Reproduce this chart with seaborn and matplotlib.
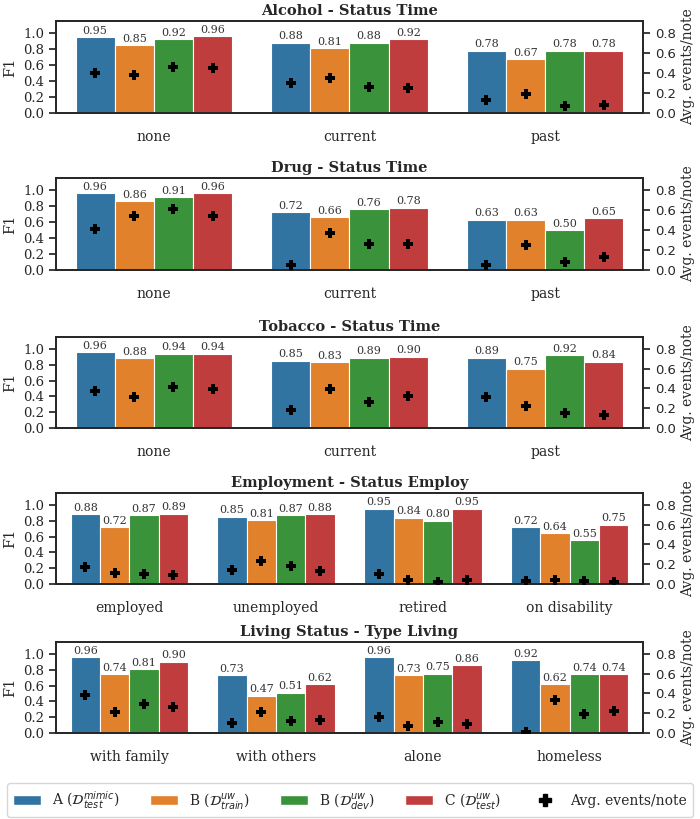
import numpy as np
import pandas as pd
import seaborn as sns
import matplotlib.pyplot as plt
from matplotlib.patches import Patch
from matplotlib.lines import Line2D

sns.set_theme(style="ticks")
plt.rcParams['font.family'] = ['DejaVu Serif']
plt.rcParams['mathtext.fontset'] = 'dejavusans'

models = [r"A ($\mathcal{D}_{test}^{mimic}$)",
          r"B ($\mathcal{D}_{train}^{uw}$)",
          r"B ($\mathcal{D}_{dev}^{uw}$)",
          r"C ($\mathcal{D}_{test}^{uw}$)"]

# ---- Alcohol ----
alcohol_title = "Alcohol - Status Time"
alcohol_cats = ["none", "current", "past"]
alcohol_f1_A = [0.95, 0.88, 0.78]
alcohol_f1_Btr = [0.85, 0.81, 0.67]
alcohol_f1_Bdev = [0.92, 0.88, 0.78]
alcohol_f1_C = [0.96, 0.92, 0.78]
alcohol_ev_A = [0.40, 0.30, 0.13]
alcohol_ev_Btr = [0.38, 0.35, 0.19]
alcohol_ev_Bdev = [0.46, 0.26, 0.07]
alcohol_ev_C = [0.45, 0.25, 0.08]

# ---- Drug ----
drug_title = "Drug - Status Time"
drug_cats = ["none", "current", "past"]
drug_f1_A = [0.96, 0.72, 0.63]
drug_f1_Btr = [0.86, 0.66, 0.63]
drug_f1_Bdev = [0.91, 0.76, 0.50]
drug_f1_C = [0.96, 0.78, 0.65]
drug_ev_A = [0.41, 0.05, 0.05]
drug_ev_Btr = [0.54, 0.37, 0.25]
drug_ev_Bdev = [0.61, 0.26, 0.08]
drug_ev_C = [0.54, 0.26, 0.13]

# ---- Tobacco ----
tobacco_title = "Tobacco - Status Time"
tobacco_cats = ["none", "current", "past"]
tobacco_f1_A = [0.96, 0.85, 0.89]
tobacco_f1_Btr = [0.88, 0.83, 0.75]
tobacco_f1_Bdev = [0.94, 0.89, 0.92]
tobacco_f1_C = [0.94, 0.90, 0.84]
tobacco_ev_A = [0.37, 0.18, 0.31]
tobacco_ev_Btr = [0.31, 0.39, 0.22]
tobacco_ev_Bdev = [0.41, 0.26, 0.15]
tobacco_ev_C = [0.39, 0.32, 0.13]

# ---- Employment ----
employ_title = "Employment - Status Employ"
employ_cats = ["employed", "unemployed", "retired", "on disability"]
employ_f1_A = [0.88, 0.85, 0.95, 0.72]
employ_f1_Btr = [0.72, 0.81, 0.84, 0.64]
employ_f1_Bdev = [0.87, 0.87, 0.80, 0.55]
employ_f1_C = [0.89, 0.88, 0.95, 0.75]
employ_ev_A = [0.17, 0.14, 0.10, 0.03]
employ_ev_Btr = [0.11, 0.23, 0.04, 0.04]
employ_ev_Bdev = [0.10, 0.18, 0.02, 0.03]
employ_ev_C = [0.09, 0.13, 0.04, 0.02]

# ---- Living ----
living_title = "Living Status - Type Living"
living_cats = ["with family", "with others", "alone", "homeless"]
living_f1_A = [0.96, 0.73, 0.96, 0.92]
living_f1_Btr = [0.74, 0.47, 0.73, 0.62]
living_f1_Bdev = [0.81, 0.51, 0.75, 0.74]
living_f1_C = [0.90, 0.62, 0.86, 0.74]
living_ev_A = [0.38, 0.10, 0.16, 0.01]
living_ev_Btr = [0.21, 0.21, 0.07, 0.33]
living_ev_Bdev = [0.29, 0.12, 0.11, 0.19]
living_ev_C = [0.26, 0.13, 0.09, 0.22]

panels = [
    (alcohol_title, alcohol_cats, [alcohol_f1_A, alcohol_f1_Btr, alcohol_f1_Bdev, alcohol_f1_C],
     [alcohol_ev_A, alcohol_ev_Btr, alcohol_ev_Bdev, alcohol_ev_C]),
    (drug_title, drug_cats, [drug_f1_A, drug_f1_Btr, drug_f1_Bdev, drug_f1_C],
     [drug_ev_A, drug_ev_Btr, drug_ev_Bdev, drug_ev_C]),
    (tobacco_title, tobacco_cats, [tobacco_f1_A, tobacco_f1_Btr, tobacco_f1_Bdev, tobacco_f1_C],
     [tobacco_ev_A, tobacco_ev_Btr, tobacco_ev_Bdev, tobacco_ev_C]),
    (employ_title, employ_cats, [employ_f1_A, employ_f1_Btr, employ_f1_Bdev, employ_f1_C],
     [employ_ev_A, employ_ev_Btr, employ_ev_Bdev, employ_ev_C]),
    (living_title, living_cats, [living_f1_A, living_f1_Btr, living_f1_Bdev, living_f1_C],
     [living_ev_A, living_ev_Btr, living_ev_Bdev, living_ev_C]),
]

W, H = 700, 819
fig = plt.figure(figsize=(W / 100, H / 100), dpi=100)
pix = [(21, 113), (178, 270), (337, 428), (493, 584), (642, 733)]
left_px, right_px = 56, 643

palette = sns.color_palette("tab10", 4, desat=0.75)
black = ["black"] * 4

for (title, cats, f1s, evs), (top, bot) in zip(panels, pix):
    ax = fig.add_axes([left_px / W, 1 - bot / H, (right_px - left_px) / W, (bot - top) / H])
    rows = []
    for m, f, e in zip(models, f1s, evs):
        for c, fv, ev in zip(cats, f, e):
            rows.append({"category": c, "model": m, "f1": fv, "events": ev})
    df = pd.DataFrame(rows)
    sns.barplot(data=df, x="category", y="f1", hue="model", order=cats, hue_order=models,
                palette=palette, saturation=1, width=0.8, edgecolor="white", linewidth=0.8,
                ax=ax, legend=False)
    for cont in ax.containers:
        ax.bar_label(cont, fmt="%.2f", fontsize=8, padding=1, color="#333333")
    ax.set_ylim(0, 1.15)
    ax.set_yticks([0, 0.2, 0.4, 0.6, 0.8, 1.0])
    ax.set_ylabel("F1", fontsize=10.5)
    ax.set_xlabel("")
    ax.set_title(title, fontsize=10.5, fontweight="bold", pad=4)
    ax.tick_params(axis="x", length=0, pad=12, labelsize=10)
    ax.tick_params(axis="y", length=5, width=1.25, labelsize=9.5)
    for s in ax.spines.values():
        s.set_linewidth(1.25)
        s.set_color("#262626")

    ax2 = ax.twinx()
    sns.stripplot(data=df, x="category", y="events", hue="model", order=cats, hue_order=models,
                  palette=black, dodge=True, jitter=False, marker="P", size=7.5, linewidth=0,
                  ax=ax2, legend=False)
    ax2.set_ylim(0, 0.92)
    ax2.set_yticks([0, 0.2, 0.4, 0.6, 0.8], labels=["0.0", "0.2", "0.4", "0.6", "0.8"],
                   fontfamily="DejaVu Sans")
    ax2.set_ylabel("Avg. events/note", fontsize=10)
    ax2.set_xlabel("")
    ax2.tick_params(axis="y", length=5, width=1.25, labelsize=9.5)
    ax2.tick_params(axis="x", length=0)
    for s in ax2.spines.values():
        s.set_linewidth(1.25)
        s.set_color("#262626")
    ax.set_xlim(-0.5, len(cats) - 0.5)

handles = [Patch(facecolor=c, edgecolor="white") for c in palette]
handles.append(Line2D([], [], marker="P", color="black", linestyle="None", markersize=8))
labels = models + ["Avg. events/note"]
fig.legend(handles, labels, loc="center", bbox_to_anchor=(0.5, 1 - 800 / H), ncol=5,
           fontsize=10, frameon=True, handlelength=2.0, columnspacing=2.2)

fig.savefig("out.png", dpi=100)
